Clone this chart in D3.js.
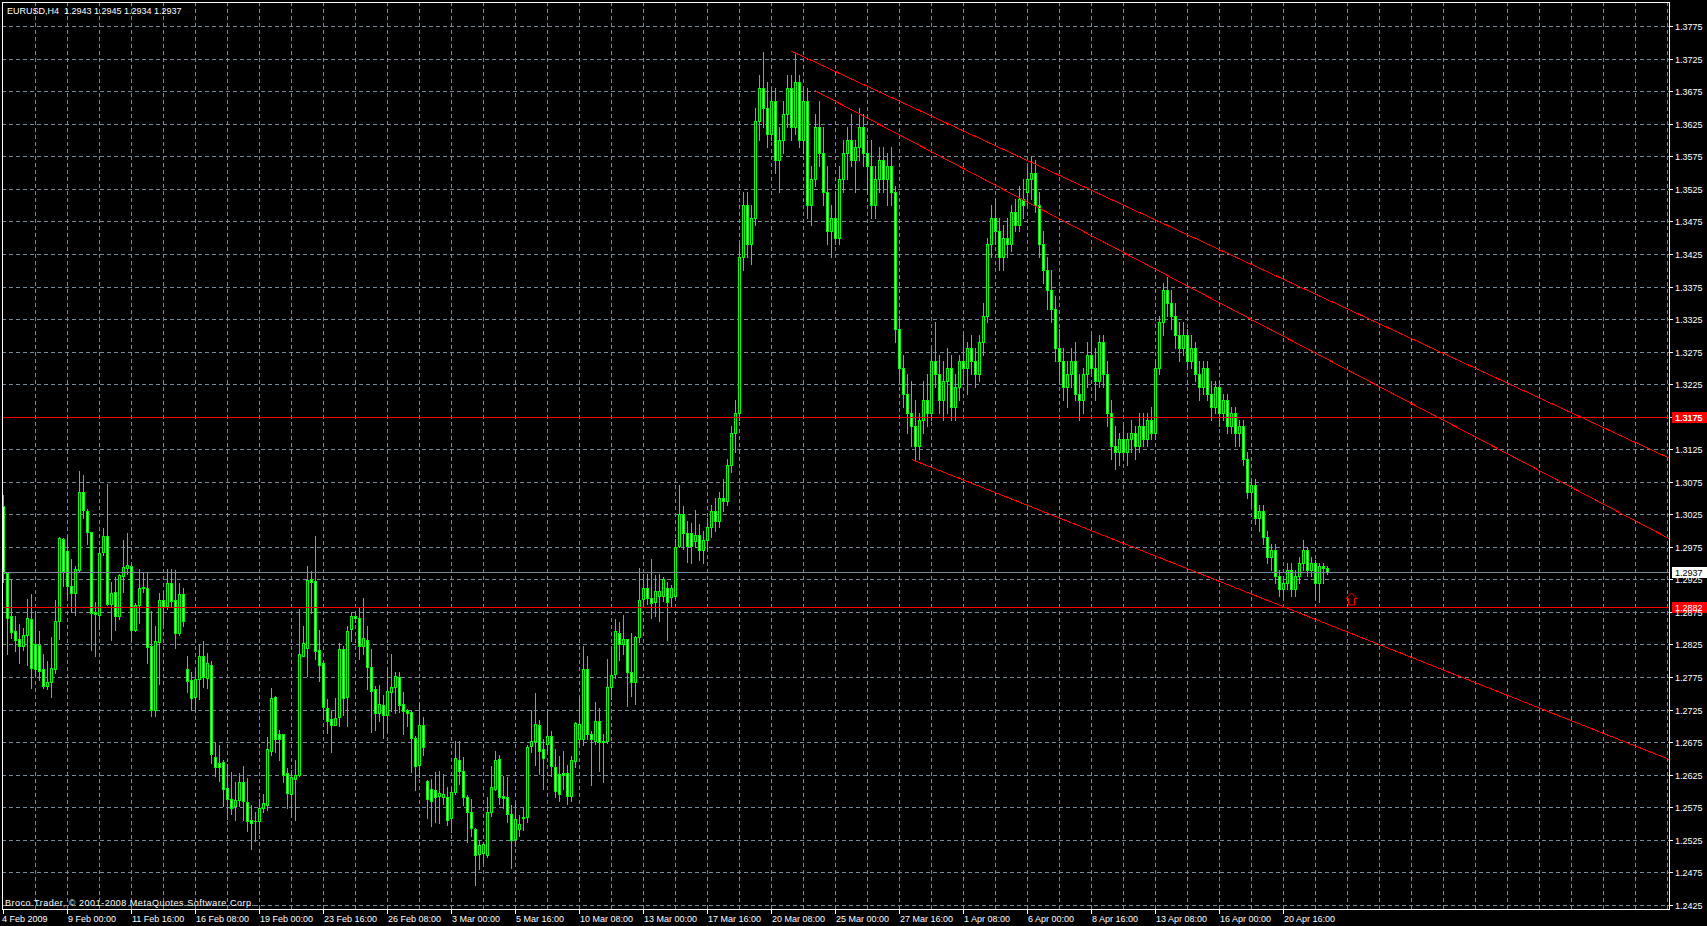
<!DOCTYPE html>
<html><head><meta charset="utf-8">
<script src="https://cdn.jsdelivr.net/npm/d3@7"></script>
<style>html,body{margin:0;padding:0;background:#000;overflow:hidden}svg{display:block}</style>
</head><body>
<svg id="c" width="1707" height="926"></svg>
<script>
const symbol = "EURUSD";
const timeframe = "H4";
const opens = [
1.3038,1.2935,1.2868,1.2846,1.2834,1.2822,1.2840,1.2864,1.2825,1.2824,
1.2787,1.2761,1.2768,1.2788,1.2861,1.2987,1.2968,1.2915,1.2904,1.2939,
1.3060,1.3030,1.2998,1.2875,1.2870,1.2967,1.2991,1.2887,1.2906,1.2868,
1.2930,1.2942,1.2945,1.2847,1.2885,1.2911,1.2911,1.2823,1.2725,1.2829,
1.2893,1.2884,1.2919,1.2894,1.2843,1.2903,1.2787,1.2771,1.2745,1.2772,
1.2808,1.2774,1.2793,1.2652,1.2643,1.2645,1.2605,1.2588,1.2577,1.2586,
1.2614,1.2583,1.2555,1.2553,1.2554,1.2574,1.2579,1.2661,1.2745,1.2687,
1.2687,1.2627,1.2595,1.2619,1.2625,1.2808,1.2820,1.2925,1.2922,1.2816,
1.2796,1.2728,1.2711,1.2702,1.2713,1.2818,1.2744,1.2848,1.2868,1.2865,
1.2822,1.2832,1.2790,1.2757,1.2720,1.2732,1.2716,1.2752,1.2759,1.2775,
1.2733,1.2724,1.2721,1.2682,1.2640,1.2701,1.2615,1.2603,1.2601,1.2592,
1.2590,1.2590,1.2558,1.2598,1.2648,1.2631,1.2590,1.2567,1.2542,1.2503,
1.2504,1.2502,1.2568,1.2603,1.2649,1.2592,1.2590,1.2565,1.2526,1.2541,
1.2558,1.2560,1.2669,1.2677,1.2701,1.2664,1.2672,1.2684,1.2637,1.2626,
1.2628,1.2627,1.2592,1.2646,1.2679,1.2680,1.2788,1.2687,1.2677,1.2708,
1.2675,1.2677,1.2759,1.2779,1.2843,1.2825,1.2834,1.2782,1.2768,1.2837,
1.2895,1.2911,1.2897,1.2890,1.2899,1.2900,1.2912,1.2898,1.2900,1.2976,
1.3025,1.2997,1.2996,1.2984,1.2993,1.2970,1.2985,1.3005,1.3030,1.3015,
1.3050,1.3045,1.3100,1.3150,1.3180,1.3420,1.3500,1.3440,1.3480,1.3630,
1.3680,1.3650,1.3610,1.3660,1.3570,1.3600,1.3640,1.3680,1.3620,1.3690,
1.3600,1.3660,1.3500,1.3540,1.3620,1.3580,1.3520,1.3460,1.3480,1.3450,
1.3540,1.3580,1.3600,1.3570,1.3590,1.3620,1.3580,1.3560,1.3500,1.3540,
1.3570,1.3540,1.3560,1.3520,1.3310,1.3250,1.3210,1.3180,1.3160,1.3130,
1.3170,1.3200,1.3180,1.3260,1.3240,1.3200,1.3230,1.3250,1.3190,1.3220,
1.3260,1.3250,1.3280,1.3260,1.3240,1.3290,1.3330,1.3440,1.3480,1.3460,
1.3420,1.3450,1.3440,1.3490,1.3470,1.3510,1.3520,1.3540,1.3550,1.3500,
1.3440,1.3400,1.3370,1.3340,1.3280,1.3260,1.3220,1.3240,1.3260,1.3210,
1.3200,1.3240,1.3270,1.3250,1.3230,1.3290,1.3240,1.3180,1.3130,1.3120,
1.3140,1.3120,1.3140,1.3150,1.3130,1.3160,1.3140,1.3170,1.3150,1.3250,
1.3320,1.3370,1.3350,1.3330,1.3300,1.3280,1.3300,1.3260,1.3280,1.3240,
1.3220,1.3250,1.3210,1.3190,1.3220,1.3180,1.3200,1.3160,1.3180,1.3150,
1.3160,1.3110,1.3060,1.3070,1.3020,1.3030,1.2990,1.2960,1.2970,1.2930,
1.2910,1.2920,1.2940,1.2910,1.2930,1.2950,1.2970,1.2940,1.2950,1.2920,
1.2945,1.2943];
const highs = [
1.3054,1.2937,1.2925,1.2869,1.2856,1.2850,1.2895,1.2903,1.2876,1.2845,
1.2810,1.2799,1.2836,1.2893,1.2990,1.2989,1.2991,1.2956,1.2946,1.3092,
1.3085,1.3033,1.2998,1.2891,1.2974,1.3004,1.3072,1.2921,1.2929,1.2934,
1.2985,1.2997,1.2946,1.2888,1.2941,1.2935,1.2935,1.2877,1.2853,1.2904,
1.2902,1.2941,1.2941,1.2940,1.2920,1.2911,1.2807,1.2783,1.2789,1.2824,
1.2830,1.2812,1.2799,1.2673,1.2671,1.2647,1.2641,1.2629,1.2613,1.2628,
1.2639,1.2620,1.2578,1.2567,1.2587,1.2595,1.2683,1.2758,1.2746,1.2693,
1.2687,1.2635,1.2632,1.2647,1.2880,1.2853,1.2945,1.2938,1.2991,1.2847,
1.2796,1.2741,1.2723,1.2743,1.2827,1.2822,1.2854,1.2875,1.2875,1.2881,
1.2896,1.2853,1.2818,1.2761,1.2762,1.2747,1.2790,1.2810,1.2783,1.2782,
1.2752,1.2726,1.2723,1.2685,1.2735,1.2713,1.2617,1.2619,1.2629,1.2631,
1.2626,1.2606,1.2606,1.2676,1.2676,1.2652,1.2594,1.2588,1.2543,1.2525,
1.2521,1.2590,1.2638,1.2662,1.2655,1.2623,1.2621,1.2578,1.2583,1.2563,
1.2575,1.2670,1.2725,1.2750,1.2709,1.2680,1.2725,1.2692,1.2665,1.2653,
1.2662,1.2640,1.2653,1.2706,1.2742,1.2823,1.2808,1.2692,1.2736,1.2727,
1.2687,1.2803,1.2818,1.2864,1.2860,1.2870,1.2834,1.2842,1.2838,1.2942,
1.2934,1.2934,1.2956,1.2931,1.2933,1.2928,1.2921,1.2916,1.2987,1.3070,
1.3037,1.3015,1.3011,1.3032,1.3010,1.3000,1.3020,1.3040,1.3050,1.3060,
1.3080,1.3110,1.3160,1.3200,1.3440,1.3520,1.3520,1.3500,1.3650,1.3700,
1.3735,1.3690,1.3680,1.3680,1.3620,1.3660,1.3700,1.3700,1.3735,1.3700,
1.3680,1.3680,1.3560,1.3640,1.3660,1.3620,1.3560,1.3500,1.3520,1.3560,
1.3600,1.3620,1.3640,1.3600,1.3650,1.3640,1.3600,1.3600,1.3560,1.3590,
1.3590,1.3580,1.3590,1.3530,1.3330,1.3270,1.3240,1.3230,1.3200,1.3180,
1.3230,1.3240,1.3280,1.3320,1.3270,1.3260,1.3280,1.3270,1.3240,1.3270,
1.3300,1.3290,1.3300,1.3280,1.3300,1.3350,1.3450,1.3500,1.3510,1.3480,
1.3470,1.3480,1.3500,1.3510,1.3530,1.3540,1.3560,1.3576,1.3570,1.3520,
1.3460,1.3420,1.3400,1.3360,1.3310,1.3280,1.3260,1.3280,1.3290,1.3240,
1.3250,1.3290,1.3300,1.3280,1.3300,1.3300,1.3260,1.3200,1.3160,1.3150,
1.3160,1.3150,1.3170,1.3160,1.3180,1.3180,1.3180,1.3190,1.3260,1.3330,
1.3380,1.3390,1.3370,1.3350,1.3320,1.3320,1.3310,1.3300,1.3290,1.3260,
1.3260,1.3260,1.3230,1.3230,1.3230,1.3210,1.3210,1.3190,1.3190,1.3170,
1.3170,1.3120,1.3080,1.3080,1.3040,1.3040,1.3000,1.2980,1.2980,1.2940,
1.2930,1.2950,1.2950,1.2940,1.2960,1.2985,1.2975,1.2960,1.2955,1.2950,
1.2950,1.2945];
const lows = [
1.2921,1.2810,1.2835,1.2815,1.2797,1.2817,1.2793,1.2758,1.2775,1.2770,
1.2758,1.2756,1.2744,1.2781,1.2833,1.2915,1.2897,1.2875,1.2871,1.2938,
1.3019,1.2979,1.2816,1.2807,1.2848,1.2963,1.2886,1.2832,1.2847,1.2864,
1.2906,1.2933,1.2830,1.2845,1.2858,1.2905,1.2796,1.2715,1.2715,1.2764,
1.2856,1.2879,1.2884,1.2820,1.2840,1.2854,1.2752,1.2725,1.2723,1.2741,
1.2760,1.2758,1.2643,1.2623,1.2615,1.2577,1.2557,1.2564,1.2555,1.2577,
1.2556,1.2538,1.2511,1.2523,1.2536,1.2568,1.2570,1.2655,1.2659,1.2648,
1.2613,1.2574,1.2562,1.2555,1.2623,1.2807,1.2776,1.2873,1.2802,1.2769,
1.2711,1.2689,1.2660,1.2701,1.2700,1.2716,1.2699,1.2831,1.2860,1.2803,
1.2810,1.2757,1.2690,1.2693,1.2708,1.2681,1.2691,1.2722,1.2720,1.2721,
1.2687,1.2700,1.2629,1.2602,1.2621,1.2655,1.2558,1.2546,1.2552,1.2551,
1.2580,1.2547,1.2537,1.2595,1.2611,1.2578,1.2521,1.2531,1.2456,1.2480,
1.2489,1.2498,1.2562,1.2601,1.2580,1.2574,1.2552,1.2481,1.2516,1.2531,
1.2540,1.2552,1.2659,1.2640,1.2626,1.2603,1.2659,1.2623,1.2590,1.2585,
1.2603,1.2580,1.2585,1.2636,1.2672,1.2670,1.2680,1.2609,1.2672,1.2631,
1.2614,1.2674,1.2741,1.2774,1.2801,1.2810,1.2730,1.2746,1.2733,1.2829,
1.2887,1.2887,1.2865,1.2869,1.2861,1.2892,1.2832,1.2882,1.2896,1.2974,
1.2971,1.2952,1.2950,1.2975,1.2955,1.2950,1.2970,1.2990,1.3000,1.3005,
1.3030,1.3040,1.3090,1.3120,1.3170,1.3400,1.3420,1.3410,1.3470,1.3600,
1.3620,1.3590,1.3600,1.3550,1.3520,1.3580,1.3620,1.3600,1.3610,1.3590,
1.3580,1.3480,1.3470,1.3530,1.3560,1.3500,1.3440,1.3420,1.3440,1.3440,
1.3520,1.3540,1.3560,1.3520,1.3570,1.3560,1.3520,1.3480,1.3480,1.3520,
1.3520,1.3500,1.3500,1.3290,1.3230,1.3190,1.3150,1.3130,1.3110,1.3110,
1.3150,1.3160,1.3170,1.3220,1.3180,1.3170,1.3180,1.3170,1.3170,1.3200,
1.3230,1.3210,1.3240,1.3220,1.3230,1.3270,1.3320,1.3420,1.3440,1.3400,
1.3400,1.3420,1.3430,1.3460,1.3460,1.3480,1.3500,1.3510,1.3490,1.3420,
1.3380,1.3340,1.3320,1.3260,1.3230,1.3200,1.3190,1.3220,1.3200,1.3170,
1.3180,1.3220,1.3240,1.3200,1.3220,1.3220,1.3160,1.3110,1.3095,1.3100,
1.3110,1.3100,1.3120,1.3110,1.3120,1.3130,1.3130,1.3140,1.3140,1.3240,
1.3300,1.3330,1.3310,1.3280,1.3260,1.3270,1.3250,1.3250,1.3230,1.3200,
1.3210,1.3200,1.3170,1.3180,1.3160,1.3170,1.3150,1.3150,1.3130,1.3130,
1.3100,1.3050,1.3040,1.3010,1.3000,1.2980,1.2950,1.2940,1.2920,1.2900,
1.2895,1.2910,1.2900,1.2900,1.2920,1.2940,1.2930,1.2930,1.2895,1.2890,
1.2920,1.2934];
const closes = [
1.2935,1.2866,1.2844,1.2832,1.2822,1.2840,1.2866,1.2789,1.2788,1.2784,
1.2761,1.2768,1.2789,1.2861,1.2989,1.2938,1.2915,1.2904,1.2941,1.3060,
1.3032,1.2998,1.2874,1.2872,1.2966,1.2991,1.2887,1.2904,1.2869,1.2932,
1.2944,1.2947,1.2847,1.2885,1.2911,1.2913,1.2821,1.2725,1.2830,1.2894,
1.2884,1.2919,1.2892,1.2843,1.2902,1.2861,1.2769,1.2743,1.2772,1.2808,
1.2775,1.2796,1.2656,1.2636,1.2637,1.2603,1.2587,1.2574,1.2586,1.2613,
1.2584,1.2553,1.2551,1.2554,1.2574,1.2581,1.2664,1.2743,1.2679,1.2679,
1.2624,1.2596,1.2622,1.2625,1.2810,1.2827,1.2924,1.2921,1.2815,1.2793,
1.2729,1.2707,1.2702,1.2712,1.2818,1.2743,1.2846,1.2868,1.2866,1.2823,
1.2835,1.2791,1.2754,1.2720,1.2734,1.2716,1.2753,1.2759,1.2776,1.2732,
1.2723,1.2720,1.2681,1.2639,1.2701,1.2667,1.2587,1.2585,1.2590,1.2597,
1.2595,1.2556,1.2598,1.2650,1.2630,1.2590,1.2567,1.2543,1.2502,1.2517,
1.2518,1.2567,1.2606,1.2648,1.2591,1.2589,1.2565,1.2524,1.2557,1.2549,
1.2560,1.2668,1.2677,1.2703,1.2662,1.2650,1.2685,1.2638,1.2600,1.2595,
1.2625,1.2592,1.2647,1.2704,1.2703,1.2787,1.2688,1.2679,1.2708,1.2675,
1.2677,1.2760,1.2778,1.2845,1.2825,1.2833,1.2782,1.2767,1.2836,1.2893,
1.2911,1.2896,1.2889,1.2907,1.2907,1.2926,1.2890,1.2912,1.2975,1.3026,
1.2997,1.2976,1.2977,1.2993,1.2970,1.2985,1.3005,1.3030,1.3015,1.3050,
1.3045,1.3100,1.3150,1.3180,1.3420,1.3500,1.3440,1.3480,1.3630,1.3680,
1.3650,1.3610,1.3660,1.3570,1.3600,1.3640,1.3680,1.3620,1.3690,1.3600,
1.3660,1.3500,1.3540,1.3620,1.3580,1.3520,1.3460,1.3480,1.3450,1.3540,
1.3580,1.3600,1.3570,1.3590,1.3620,1.3580,1.3560,1.3500,1.3540,1.3570,
1.3540,1.3560,1.3520,1.3310,1.3250,1.3210,1.3180,1.3160,1.3130,1.3170,
1.3200,1.3180,1.3260,1.3240,1.3200,1.3230,1.3250,1.3190,1.3220,1.3260,
1.3250,1.3280,1.3260,1.3240,1.3290,1.3330,1.3440,1.3480,1.3460,1.3420,
1.3450,1.3440,1.3490,1.3470,1.3510,1.3500,1.3540,1.3550,1.3500,1.3440,
1.3400,1.3370,1.3340,1.3280,1.3260,1.3220,1.3240,1.3260,1.3210,1.3200,
1.3240,1.3270,1.3250,1.3230,1.3290,1.3240,1.3180,1.3130,1.3120,1.3140,
1.3120,1.3140,1.3150,1.3130,1.3160,1.3140,1.3170,1.3150,1.3250,1.3320,
1.3370,1.3350,1.3330,1.3300,1.3280,1.3300,1.3260,1.3280,1.3240,1.3220,
1.3250,1.3210,1.3190,1.3220,1.3180,1.3200,1.3160,1.3180,1.3150,1.3160,
1.3110,1.3060,1.3070,1.3020,1.3030,1.2990,1.2960,1.2970,1.2930,1.2910,
1.2920,1.2940,1.2910,1.2930,1.2950,1.2970,1.2940,1.2950,1.2920,1.2945,
1.2943,1.2937];

const priceTicks = [1.2425,1.2475,1.2525,1.2575,1.2625,1.2675,1.2725,1.2775,1.2825,1.2875,
  1.2925,1.2975,1.3025,1.3075,1.3125,1.3175,1.3225,1.3275,1.3325,1.3375,
  1.3425,1.3475,1.3525,1.3575,1.3625,1.3675,1.3725,1.3775];
const timeTickBars = [0,16,32,48,64,80,96,112,128,144,160,176,192,208,224,240,256,272,288,304,320];
const timeTickLabels = ["4 Feb 2009","9 Feb 00:00","11 Feb 16:00","16 Feb 08:00","19 Feb 00:00","23 Feb 16:00",
  "26 Feb 08:00","3 Mar 00:00","5 Mar 16:00","10 Mar 08:00","13 Mar 00:00","17 Mar 16:00","20 Mar 08:00",
  "25 Mar 00:00","27 Mar 16:00","1 Apr 08:00","6 Apr 00:00","8 Apr 16:00","13 Apr 08:00","16 Apr 00:00","20 Apr 16:00"];
const gridBarStep = 8;
const levelPrices = [1.3175, 1.2882];
const trendStartBars = [197, 203, 227.25];
const trendStartPrices = [1.3737, 1.3676, 1.3109];
const trendEndBars = [416.5, 416.5, 416.5];
const trendEndPrices = [1.31115, 1.29878, 1.26485];
const arrowBar = 337;
const arrowPrice = 1.2882;
const copyright = "Broco Trader, \u00a9 2001-2008 MetaQuotes Software Corp.";

const L = 2, R = 1669, T = 2, B = 909;
const FONT = "'Liberation Sans', Arial, sans-serif";
const GREEN = "#00ff00", GRID = "#778899", RED = "#ff0000";
const svg = d3.select("#c");
svg.append("rect").attr("width",1707).attr("height",926).attr("fill","#000");

const x = d3.scaleLinear().domain([-0.25, 416.5]).range([L, R]);
const y = d3.scaleLinear().domain([1.24185, 1.38122]).range([B, T]);
const px = v => Math.round(x(v));
const py = v => Math.round(y(v));

const g = svg.append("g").attr("shape-rendering","crispEdges");

// grid
const gridBars = d3.range(gridBarStep, 417, gridBarStep);
g.selectAll("line.vg").data(gridBars).enter().append("line")
  .attr("x1", d => px(d)+0.5).attr("x2", d => px(d)+0.5)
  .attr("y1", T).attr("y2", B)
  .attr("stroke", GRID).attr("stroke-dasharray","4,3");
g.selectAll("line.hg").data(priceTicks).enter().append("line")
  .attr("x1", L).attr("x2", R)
  .attr("y1", d => py(d)+0.5).attr("y2", d => py(d)+0.5)
  .attr("stroke", GRID).attr("stroke-dasharray","4,3");

// candles
const bars = opens.map((o,i) => ({i, o, h: highs[i], l: lows[i], c: closes[i]}));
const cg = g.append("g");
bars.forEach(d => {
  const cx = px(d.i);
  const yo = py(d.o), yc = py(d.c), yh = py(d.h), yl = py(d.l);
  const top = Math.min(yo, yc), bot = Math.max(yo, yc);
  cg.append("rect").attr("x", cx).attr("y", yh).attr("width", 1).attr("height", Math.max(1, yl - yh + 1)).attr("fill", GREEN);
  cg.append("rect").attr("x", cx-1).attr("y", top).attr("width", 3).attr("height", bot - top + 1).attr("fill", GREEN);
  if (bot - top >= 2) {
    cg.append("rect").attr("x", cx).attr("y", top+1).attr("width", 1).attr("height", bot - top - 1)
      .attr("fill", d.c >= d.o ? "#000" : "#fff");
  }
});

// horizontal level lines
const bid = closes[closes.length-1];
g.append("line").attr("x1", L).attr("x2", R).attr("y1", py(bid)+0.5).attr("y2", py(bid)+0.5).attr("stroke", GRID);
levelPrices.forEach(p => {
  g.append("line").attr("x1", L).attr("x2", R).attr("y1", py(p)+0.5).attr("y2", py(p)+0.5).attr("stroke", RED);
});

// trend lines
const clipId = "plotclip";
svg.append("clipPath").attr("id", clipId).append("rect").attr("x", L).attr("y", T).attr("width", R-L).attr("height", B-T);
const tg = g.append("g").attr("clip-path", `url(#${clipId})`);
trendStartBars.forEach((b, k) => {
  tg.append("line")
    .attr("x1", x(b)).attr("y1", y(trendStartPrices[k]))
    .attr("x2", x(trendEndBars[k])).attr("y2", y(trendEndPrices[k]))
    .attr("stroke", RED).attr("stroke-width", 1);
});

// arrow
const ax = px(arrowBar) + 0.5, ay = py(arrowPrice) - 2;
svg.append("path")
  .attr("d", `M${ax},${ay-12} L${ax+5.5},${ay-6.5} L${ax+3},${ay-6.5} L${ax+3},${ay} L${ax-3},${ay} L${ax-3},${ay-6.5} L${ax-5.5},${ay-6.5} Z`)
  .attr("fill", "none").attr("stroke", RED).attr("stroke-width", 1);

// border
g.append("rect").attr("x", L+0.5).attr("y", T+0.5).attr("width", R-L).attr("height", B-T)
  .attr("fill", "none").attr("stroke", "#fff");

// right price axis
priceTicks.forEach(p => {
  const yy = py(p);
  g.append("line").attr("x1", R).attr("x2", R+4).attr("y1", yy+0.5).attr("y2", yy+0.5).attr("stroke", "#fff");
  svg.append("text").attr("x", 1675).attr("y", yy + 3.5).attr("fill", "#fff")
    .attr("font-family", FONT).attr("font-size", "9px").text(d3.format(".4f")(p));
});
function priceBox(p, bg, fg) {
  const yy = py(p);
  g.append("rect").attr("x", 1672).attr("y", yy - 5).attr("width", 35).attr("height", 11).attr("fill", bg);
  svg.append("text").attr("x", 1675).attr("y", yy + 3.5).attr("fill", fg)
    .attr("font-family", FONT).attr("font-size", "9px").text(d3.format(".4f")(p));
}
levelPrices.forEach(p => priceBox(p, RED, "#fff"));
priceBox(bid, "#fff", "#000");

// bottom time axis
timeTickBars.forEach((b, k) => {
  const xx = px(b);
  g.append("line").attr("x1", xx+0.5).attr("x2", xx+0.5).attr("y1", B).attr("y2", B+5).attr("stroke", "#fff");
  svg.append("text").attr("x", k === 0 ? 2 : xx + 1).attr("y", 922).attr("fill", "#fff")
    .attr("font-family", FONT).attr("font-size", "9px").text(timeTickLabels[k]);
});

// header
const last = bars[bars.length-1];
const f4 = d3.format(".4f");
svg.append("text").attr("x", 7).attr("y", 13.5).attr("fill", "#fff").attr("font-family", FONT).attr("font-size", "9px")
  .attr("xml:space","preserve").style("white-space","pre")
  .text(`${symbol},${timeframe}  ${f4(last.o)} ${f4(last.h)} ${f4(last.l)} ${f4(last.c)}`);
svg.append("text").attr("x", 5).attr("y", 906).attr("fill", "#fff").attr("font-family", FONT).attr("font-size", "9px")
  .attr("textLength", 249).attr("lengthAdjust", "spacing")
  .text(copyright);
</script>
</body></html>
